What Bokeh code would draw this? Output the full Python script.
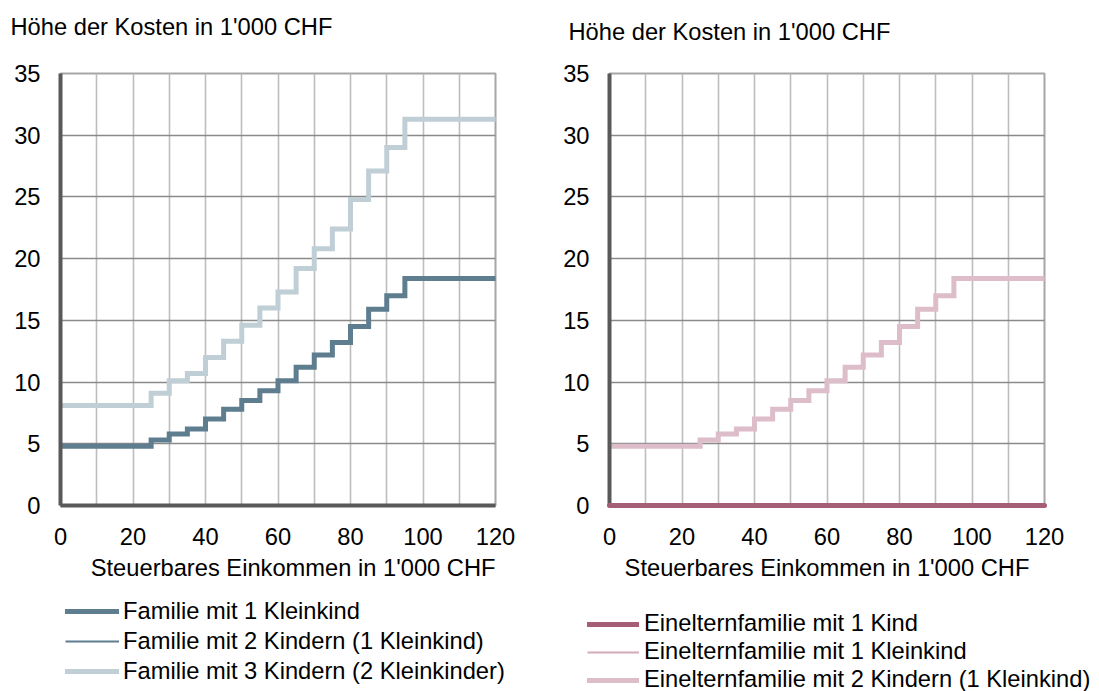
from bokeh.plotting import figure
from bokeh.layouts import row, column
from bokeh.models import FixedTicker, Legend, LegendItem, Title
from bokeh.embed import file_html
from bokeh.resources import INLINE

# ---------------- data ----------------
income = [0, 25, 30, 35, 40, 45, 50, 55, 60, 65, 70, 75, 80, 85, 90, 95, 120]

familie_1_kleinkind = [4.8, 5.3, 5.8, 6.2, 7.0, 7.8, 8.5, 9.3, 10.1, 11.2, 12.2, 13.2, 14.5, 15.9, 17.0, 18.4, 18.4]
familie_2_kinder_1_kleinkind = [4.8, 5.3, 5.8, 6.2, 7.0, 7.8, 8.5, 9.3, 10.1, 11.2, 12.2, 13.2, 14.5, 15.9, 17.0, 18.4, 18.4]
familie_3_kinder_2_kleinkinder = [8.1, 9.1, 10.1, 10.7, 12.0, 13.3, 14.6, 16.0, 17.3, 19.2, 20.8, 22.4, 24.8, 27.1, 29.0, 31.3, 31.3]

eineltern_1_kind = [0, 0, 0, 0, 0, 0, 0, 0, 0, 0, 0, 0, 0, 0, 0, 0, 0]
eineltern_1_kleinkind = [4.8, 5.3, 5.8, 6.2, 7.0, 7.8, 8.5, 9.3, 10.1, 11.2, 12.2, 13.2, 14.5, 15.9, 17.0, 18.4, 18.4]
eineltern_2_kinder_1_kleinkind = [4.8, 5.3, 5.8, 6.2, 7.0, 7.8, 8.5, 9.3, 10.1, 11.2, 12.2, 13.2, 14.5, 15.9, 17.0, 18.4, 18.4]

x_ticks = [0, 20, 40, 60, 80, 100, 120]
x_grid = [0, 10, 20, 30, 40, 50, 60, 70, 80, 90, 100, 110, 120]
y_ticks = [0, 5, 10, 15, 20, 25, 30, 35]

y_title = "Höhe der Kosten in 1'000 CHF"
x_title = "Steuerbares Einkommen in 1'000 CHF"

labels_left = ["Familie mit 1 Kleinkind",
               "Familie mit 2 Kindern (1 Kleinkind)",
               "Familie mit 3 Kindern (2 Kleinkinder)"]
labels_right = ["Einelternfamilie mit 1 Kind",
                "Einelternfamilie mit 1 Kleinkind",
                "Einelternfamilie mit 2 Kindern (1 Kleinkind)"]

# ---------------- styles ----------------
FONT = "Liberation Sans"
FS = "23.7px"
DARK = "#5E7D8F"
LIGHT = "#C0CED6"
MAUVE = "#A55E75"
PINK = "#DDBDC9"
PINK_THIN = "#D4A9B9"
CHART_H = 596
LEG_H = 691 - CHART_H


def no_frame_align(p):
    if "frame_align" in p.properties():
        p.frame_align = False


def make_fig(width, min_right):
    p = figure(width=width, height=CHART_H, x_range=(0, 120), y_range=(0, 35),
               output_backend="svg", toolbar_location=None,
               min_border_left=60, min_border_right=min_right,
               min_border_top=73, min_border_bottom=CHART_H - 505)
    no_frame_align(p)
    p.background_fill_color = "white"
    p.border_fill_color = "white"
    p.outline_line_color = "#A6A6A6"
    p.outline_line_width = 2
    p.xaxis.ticker = FixedTicker(ticks=x_ticks)
    p.yaxis.ticker = FixedTicker(ticks=y_ticks)
    p.xgrid.ticker = FixedTicker(ticks=x_grid)
    p.ygrid.ticker = FixedTicker(ticks=y_ticks)
    p.xgrid.grid_line_color = "#BDBDBD"
    p.xgrid.grid_line_width = 1.6
    p.ygrid.grid_line_color = "#8A8A8A"
    p.ygrid.grid_line_width = 1.4
    for ax in p.axis:
        ax.major_tick_out = 0
        ax.major_tick_in = 0
        ax.minor_tick_out = 0
        ax.minor_tick_in = 0
        ax.axis_line_width = 4
        ax.axis_line_color = "#595959"
        ax.major_label_text_font = FONT
        ax.major_label_text_font_size = FS
        ax.major_label_text_color = "black"
    p.yaxis.major_label_standoff = 20
    p.xaxis.major_label_standoff = 22
    return p


def add_titles(p, top_offset, spacer_standoff, bottom_align, bottom_standoff):
    # empty spacer panel between the frame and the cost title
    p.add_layout(Title(text=" ", standoff=spacer_standoff, text_font_size="10px"), "above")
    p.add_layout(Title(text=y_title, align="left", offset=top_offset, standoff=10,
                       text_font=FONT, text_font_size=FS, text_font_style="normal",
                       text_color="black"), "above")
    p.add_layout(Title(text=x_title, align=bottom_align, offset=0, standoff=bottom_standoff,
                       text_font=FONT, text_font_size=FS, text_font_style="normal",
                       text_color="black"), "below")


def make_legend_fig(width, series, specs, labels, vx, vy, glyph_w, item_h, spacing, standoff):
    # separate strip under the chart that carries the legend
    q = figure(width=width, height=LEG_H, x_range=(0, 120), y_range=(100, 101),
               x_axis_type=None, y_axis_type=None,
               output_backend="svg", toolbar_location=None,
               min_border=0, min_border_left=0, min_border_right=0,
               min_border_top=0, min_border_bottom=0)
    no_frame_align(q)
    q.grid.visible = False
    q.outline_line_color = None
    q.background_fill_color = "white"
    q.border_fill_color = "white"
    items = []
    for ys, (color, lw, cap), lab in zip(series, specs, labels):
        r = q.step(income, ys, mode="after", line_color=color, line_width=lw, line_cap=cap)
        items.append(LegendItem(label=lab, renderers=[r]))
    leg = Legend(items=items, location=(vx, vy), orientation="vertical",
                 padding=0, margin=0, spacing=spacing,
                 glyph_width=glyph_w, glyph_height=item_h, label_height=item_h,
                 label_standoff=standoff,
                 label_text_font=FONT, label_text_font_size=FS,
                 label_text_color="black",
                 border_line_color=None, background_fill_alpha=0)
    q.add_layout(leg)
    return q


# ---------------- left chart ----------------
p1 = make_fig(549, 54)
p1.step(income, familie_2_kinder_1_kleinkind, mode="after",
        line_color=DARK, line_width=2, line_join="miter")
p1.step(income, familie_1_kleinkind, mode="after",
        line_color=DARK, line_width=5, line_join="miter", line_cap="round")
p1.step(income, familie_3_kinder_2_kleinkinder, mode="after",
        line_color=LIGHT, line_width=5, line_join="miter", line_cap="round")
add_titles(p1, -50, 16, "right", 10)
l1 = make_legend_fig(549,
                     [familie_1_kleinkind, familie_2_kinder_1_kleinkind, familie_3_kinder_2_kleinkinder],
                     [(DARK, 5, "round"), (DARK, 2, "butt"), (LIGHT, 5, "round")],
                     labels_left, 65, LEG_H - 90, 54, 30, 0, 4)

# ---------------- right chart ----------------
p2 = make_fig(550, 55)
p2.step(income, eineltern_1_kleinkind, mode="after",
        line_color=PINK_THIN, line_width=2, line_join="miter")
p2.step(income, eineltern_2_kinder_1_kleinkind, mode="after",
        line_color=PINK, line_width=5, line_join="miter", line_cap="round")
p2.step(income, eineltern_1_kind, mode="after",
        line_color=MAUVE, line_width=5, line_join="miter", line_cap="round",
        level="overlay")
add_titles(p2, -41, 11, "center", 10)
l2 = make_legend_fig(550,
                     [eineltern_1_kind, eineltern_1_kleinkind, eineltern_2_kinder_1_kleinkind],
                     [(MAUVE, 5, "round"), (PINK_THIN, 2, "butt"), (PINK, 5, "round")],
                     labels_right, 38, -2, 52, 26, 1, 5)

layout = row(column(p1, l1), column(p2, l2))
open("out.html", "w").write(file_html(layout, INLINE))
